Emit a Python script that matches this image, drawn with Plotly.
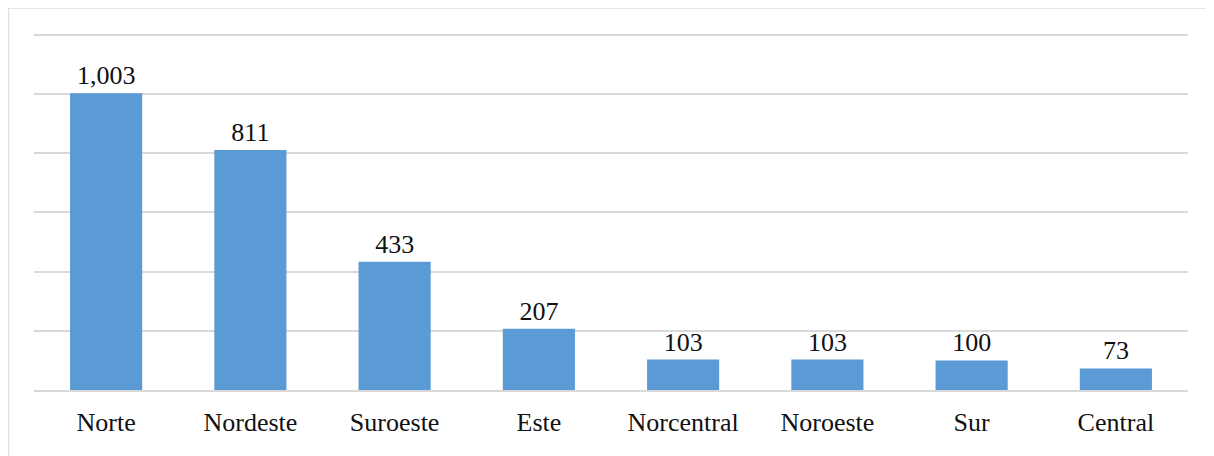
import plotly.graph_objects as go

categories = ["Norte", "Nordeste", "Suroeste", "Este", "Norcentral", "Noroeste", "Sur", "Central"]
values = [1003, 811, 433, 207, 103, 103, 100, 73]
labels = [f"{v:,}" for v in values]

OFF = 8  # page body margin
W, H = 1206, 448
YMAX = 1220
top_px = 390 - 355 * YMAX / 1200
L, T = 34 - OFF, top_px - OFF
R = W + OFF - 1188
B = H + OFF - 390
pw, ph = W - L - R, H - T - B

fig = go.Figure(go.Bar(
    x=categories, y=values, text=labels, textposition="outside",
    marker=dict(color="#5B9BD5", line=dict(width=0)),
    textfont=dict(family="Liberation Serif", size=26, color="#111111"),
    cliponaxis=False,
))

fig.update_layout(
    width=W, height=H,
    margin=dict(l=L, r=R, t=T, b=B),
    paper_bgcolor="white", plot_bgcolor="white",
    bargap=0.5,
    showlegend=False,
    font=dict(family="Liberation Serif", size=26, color="#111111"),
    xaxis=dict(showgrid=False, showline=True, linecolor="#d9d9d9", linewidth=1.5,
               ticks="", ticklabelstandoff=8,
               tickfont=dict(family="Liberation Serif", size=26, color="#111111")),
    yaxis=dict(range=[0, YMAX], tickvals=[200, 400, 600, 800, 1000, 1200],
               showgrid=True, gridcolor="#d9d9d9",
               gridwidth=1.5, showticklabels=False, zeroline=False, showline=False),
    shapes=[dict(type="rect", xref="paper", yref="paper",
                 x0=(8.5 - 34) / pw, x1=(1212 - 34) / pw,
                 y0=-(470 - 390) / ph, y1=(390 - 8) / ph,
                 line=dict(color="#e0e0e0", width=1.5), fillcolor="rgba(0,0,0,0)",
                 layer="below")],
)

fig.write_html("out.html")
